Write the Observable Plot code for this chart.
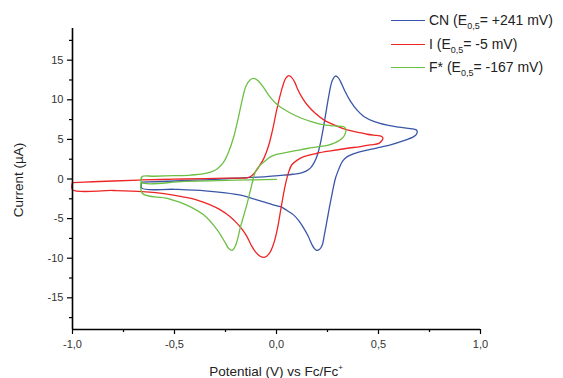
<!DOCTYPE html>
<html>
<head>
<meta charset="utf-8">
<script src="https://cdn.jsdelivr.net/npm/d3@7"></script>
<script src="https://cdn.jsdelivr.net/npm/@observablehq/plot@0.6"></script>
<style>
  html, body { margin: 0; padding: 0; background: #fff; }
  #wrap { position: relative; width: 563px; height: 378px; font-family: "Liberation Sans", Arial, sans-serif; color: #222; }
  #legend { position: absolute; left: 391px; top: 9px; font-size: 14px; line-height: 23.5px; }
  #legend .row { display: flex; align-items: center; white-space: nowrap; }
  #legend .sw { width: 34px; height: 0; border-top: 1.5px solid; margin-right: 4px; }
  #legend sub { font-size: 9px; vertical-align: -4px; line-height: 0; }
  .ytitle { position: absolute; left: 18px; top: 180px; transform: translate(-50%, -50%) rotate(-90deg); font-size: 13.5px; white-space: nowrap; }
  .xtitle { position: absolute; left: 276px; top: 371px; transform: translate(-50%, -50%); font-size: 13.5px; white-space: nowrap; }
  .xtitle sup { font-size: 8px; vertical-align: 6px; line-height: 0; }
</style>
</head>
<body>
<div id="wrap"></div>
<script>
// ---- data (potential V vs Fc/Fc+, current µA) ----
const seriesNames = ["CN", "I", "F*"];
const seriesColors = ["#3a56a8", "#ee2525", "#6cbf45"];
const legendLabels = [
  ["CN (E", "0,5", "= +241 mV)"],
  ["I (E", "0,5", "= -5 mV)"],
  ["F* (E", "0,5", "= -167 mV)"]
];
const xMajor = [-1, -0.5, 0, 0.5, 1];
const xMinor = [-0.75, -0.25, 0.25, 0.75];
const yMajor = [-15, -10, -5, 0, 5, 10, 15];
const yMinor = [-17.5, -12.5, -7.5, -2.5, 2.5, 7.5, 12.5, 17.5];
const xDomain = [-1, 1];
const yDomain = [-19, 19];

const cnV = [-0.66,-0.5,-0.35,-0.2,-0.05,0.02,0.08,0.118,0.145,0.167,0.185,0.2,0.216,0.232,0.245,0.257,0.273,0.289,0.302,0.314,0.335,0.363,0.395,0.428,0.48,0.543,0.6,0.657,0.685,0.69,
  0.685,0.673,0.62,0.559,0.49,0.428,0.38,0.347,0.325,0.314,0.3,0.289,0.28,0.273,0.26,0.248,0.235,0.224,0.21,0.196,0.185,0.175,0.155,0.134,0.11,0.085,0.05,0.02,-0.013,-0.1,-0.176,-0.25,-0.35,-0.5,-0.66,-0.66];
const cnI = [-0.4,-0.25,-0.1,0.1,0.3,0.45,0.6,0.75,1.0,1.4,2.1,3.0,4.6,6.8,8.8,10.6,12.4,13.0,12.8,12.3,11.1,9.8,8.7,7.9,7.25,6.8,6.55,6.35,6.2,6.0,
  5.6,5.35,4.8,4.3,3.9,3.55,3.2,2.83,2.3,1.77,0.9,0.09,-0.9,-1.8,-3.5,-5.2,-7.0,-8.35,-8.9,-9.0,-8.75,-8.35,-7.2,-6.24,-5.3,-4.56,-3.95,-3.5,-3.3,-2.6,-2.05,-1.75,-1.5,-1.3,-1.15,-0.4];

const iV = [-1.0,-0.9,-0.8,-0.66,-0.5,-0.35,-0.25,-0.18,-0.144,-0.12,-0.103,-0.085,-0.062,-0.04,-0.021,0.003,0.028,0.045,0.06,0.075,0.09,0.101,0.125,0.15,0.19,0.232,0.29,0.347,0.4,0.444,0.49,0.512,0.522,
  0.515,0.502,0.46,0.412,0.34,0.265,0.2,0.134,0.1,0.075,0.06,0.048,0.035,0.02,0.005,-0.013,-0.035,-0.06,-0.08,-0.103,-0.125,-0.144,-0.17,-0.193,-0.23,-0.275,-0.33,-0.389,-0.46,-0.536,-0.658,-0.8,-1.0,-1.0];
const iI = [-0.45,-0.35,-0.25,-0.12,-0.02,0.05,0.1,0.1,0.15,0.45,0.92,1.6,2.6,4.1,6.0,8.95,11.5,12.7,13.05,12.8,12.2,11.5,10.3,9.37,8.3,7.47,6.75,6.2,5.9,5.65,5.5,5.42,5.15,
  4.8,4.5,4.3,4.1,3.85,3.55,3.25,2.83,2.35,1.8,0.9,-0.2,-1.8,-4.0,-6.2,-8.1,-9.4,-9.9,-9.75,-9.2,-8.3,-7.3,-6.3,-5.6,-4.7,-3.9,-3.2,-2.66,-2.25,-1.9,-1.6,-1.45,-1.35,-0.45];

const fV = [0.0,-0.2,-0.45,-0.66,-0.66,-0.6,-0.5,-0.42,-0.36,-0.32,-0.29,-0.26,-0.235,-0.21,-0.19,-0.168,-0.15,-0.13,-0.111,-0.09,-0.062,-0.03,0.003,0.03,0.07,0.12,0.17,0.22,0.28,0.33,0.34,
  0.335,0.322,0.3,0.28,0.25,0.2,0.15,0.1,0.05,0.0,-0.03,-0.06,-0.08,-0.095,-0.108,-0.12,-0.144,-0.176,-0.2,-0.217,-0.235,-0.25,-0.29,-0.356,-0.44,-0.535,-0.658,-0.66];
const fI = [-0.05,-0.15,-0.3,-0.45,0.3,0.35,0.42,0.5,0.65,0.9,1.3,2.1,3.4,5.3,7.4,10.0,11.7,12.5,12.7,12.4,11.5,10.3,9.4,8.9,8.3,7.7,7.25,6.9,6.7,6.6,6.3,
  5.6,5.15,4.75,4.5,4.25,4.05,3.85,3.6,3.35,3.1,2.8,2.2,1.75,1.3,0.6,-0.6,-3.1,-6.0,-8.35,-9.0,-8.75,-8.1,-6.46,-4.56,-3.3,-2.45,-1.8,0.3];

// ---- build table ----
const rows = [];
[[cnV, cnI], [iV, iI], [fV, fI]].forEach(([vs, is], k) => {
  vs.forEach((v, j) => rows.push({series: seriesNames[k], v, i: is[j]}));
});

const comma = d => d.toFixed(1).replace(".", ",");

const chart = Plot.plot({
  width: 563,
  height: 378,
  marginLeft: 72,
  marginRight: 83,
  marginTop: 28,
  marginBottom: 49,
  style: {fontFamily: '"Liberation Sans", Arial, sans-serif', fontSize: "11px", color: "#333", background: "#fff"},
  x: {domain: xDomain},
  y: {domain: yDomain},
  color: {domain: seriesNames, range: seriesColors},
  marks: [
    Plot.line(rows, {x: "v", y: "i", z: "series", stroke: "series", strokeWidth: 1.3, curve: "catmull-rom"}),
    Plot.axisX({ticks: xMajor, tickSize: 5, tickPadding: 6, tickFormat: comma, label: null, stroke: "#000", strokeWidth: 1.2}),
    Plot.axisX({ticks: xMinor, tickSize: 3, tickFormat: () => "", label: null, stroke: "#000", strokeWidth: 1.2}),
    Plot.axisY({ticks: yMajor, tickSize: 5, tickPadding: 4, tickFormat: d => String(d), label: null, stroke: "#000", strokeWidth: 1.2}),
    Plot.axisY({ticks: yMinor, tickSize: 3, tickFormat: () => "", label: null, stroke: "#000", strokeWidth: 1.2}),
    Plot.ruleX([xDomain[0]], {stroke: "#000", strokeWidth: 1.6}),
    Plot.ruleY([yDomain[0]], {stroke: "#000", strokeWidth: 1.6})
  ]
});

const wrap = document.getElementById("wrap");
wrap.appendChild(chart);

const yt = document.createElement("div");
yt.className = "ytitle";
yt.textContent = "Current (µA)";
wrap.appendChild(yt);

const xt = document.createElement("div");
xt.className = "xtitle";
xt.innerHTML = "Potential (V) vs Fc/Fc<sup>+</sup>";
wrap.appendChild(xt);

const lg = document.createElement("div");
lg.id = "legend";
legendLabels.forEach((parts, k) => {
  const r = document.createElement("div");
  r.className = "row";
  const sw = document.createElement("span");
  sw.className = "sw";
  sw.style.borderTopColor = seriesColors[k];
  r.appendChild(sw);
  const t = document.createElement("span");
  t.appendChild(document.createTextNode(parts[0]));
  const sb = document.createElement("sub");
  sb.textContent = parts[1];
  t.appendChild(sb);
  t.appendChild(document.createTextNode(parts[2]));
  r.appendChild(t);
  lg.appendChild(r);
});
wrap.appendChild(lg);
</script>
</body>
</html>
